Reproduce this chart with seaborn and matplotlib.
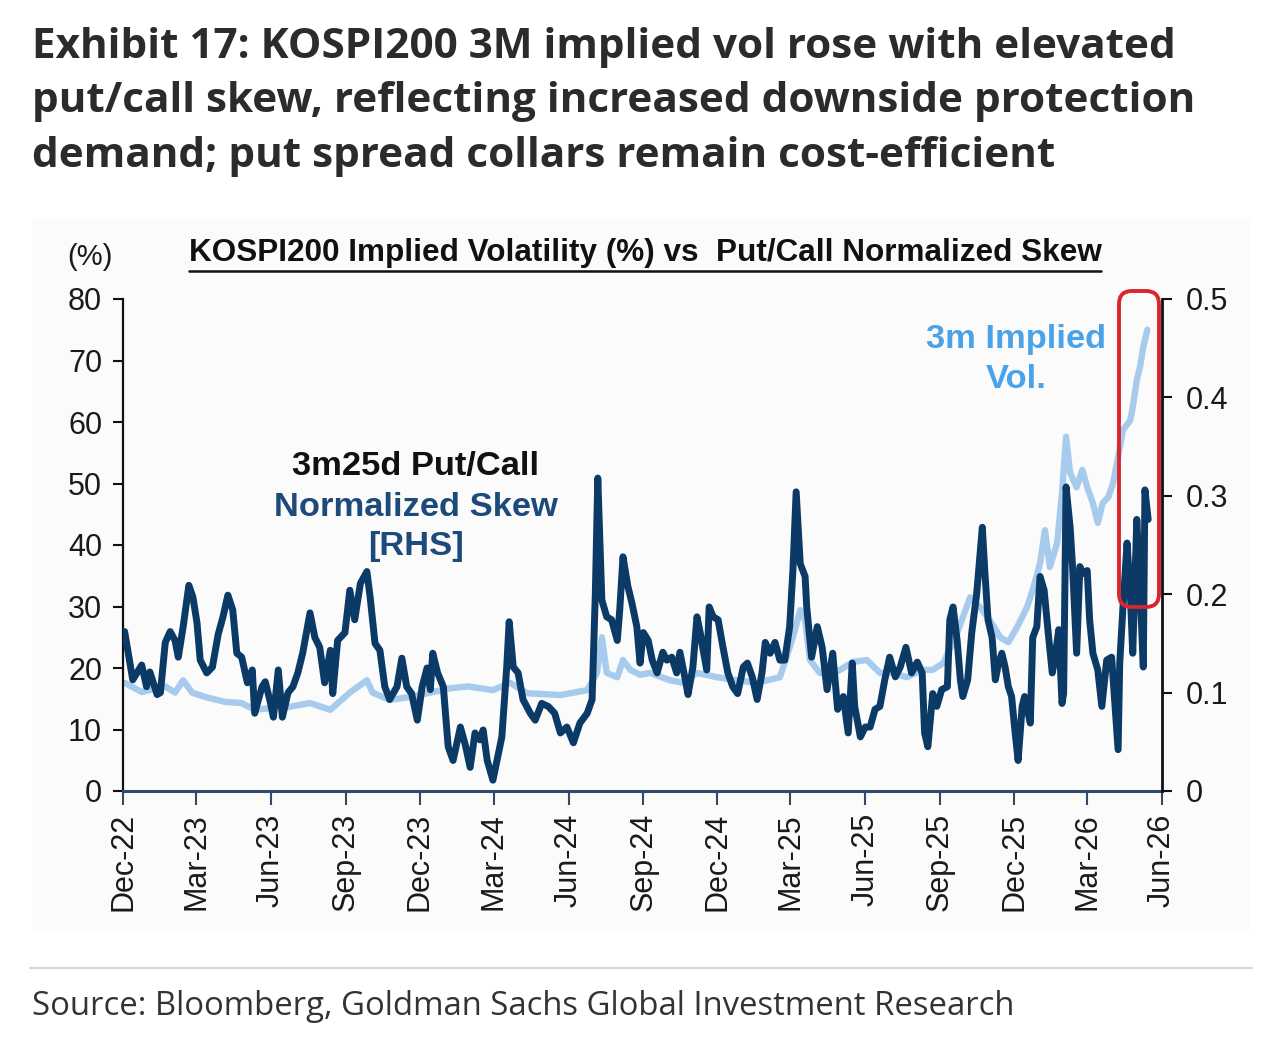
import matplotlib
matplotlib.use("Agg")
import matplotlib.pyplot as plt
import numpy as np
import pandas as pd
import seaborn as sns
from matplotlib.patches import Rectangle, FancyBboxPatch
from matplotlib.lines import Line2D

# ---------------- data ----------------
skew_dates = [
    "2022-12-03", "2022-12-13", "2022-12-24", "2022-12-30", "2023-01-03", "2023-01-12", "2023-01-16",
    "2023-01-22", "2023-01-28", "2023-02-03", "2023-02-07", "2023-02-13", "2023-02-20", "2023-02-25",
    "2023-03-02", "2023-03-06", "2023-03-14", "2023-03-21", "2023-03-28", "2023-04-03", "2023-04-09",
    "2023-04-15", "2023-04-20", "2023-04-26", "2023-05-03", "2023-05-09", "2023-05-12", "2023-05-21",
    "2023-05-25", "2023-05-31", "2023-06-04", "2023-06-10", "2023-06-15", "2023-06-22", "2023-06-28",
    "2023-07-04", "2023-07-10", "2023-07-19", "2023-07-25", "2023-07-31", "2023-08-06", "2023-08-13",
    "2023-08-16", "2023-08-22", "2023-08-31", "2023-09-06", "2023-09-12", "2023-09-19", "2023-09-27",
    "2023-10-01", "2023-10-07", "2023-10-13", "2023-10-19", "2023-10-25", "2023-11-03", "2023-11-09",
    "2023-11-15", "2023-11-21", "2023-11-28", "2023-12-04", "2023-12-10", "2023-12-14", "2023-12-17",
    "2023-12-23", "2023-12-30", "2024-01-05", "2024-01-11", "2024-01-20", "2024-01-26", "2024-02-01",
    "2024-02-07", "2024-02-13", "2024-02-17", "2024-02-22", "2024-02-29", "2024-03-05", "2024-03-11",
    "2024-03-17", "2024-03-20", "2024-03-25", "2024-03-31", "2024-04-06", "2024-04-15", "2024-04-21",
    "2024-04-29", "2024-05-07", "2024-05-15", "2024-05-22", "2024-05-30", "2024-06-07", "2024-06-15",
    "2024-06-24", "2024-06-30", "2024-07-04", "2024-07-07", "2024-07-12", "2024-07-18", "2024-07-24",
    "2024-07-31", "2024-08-03", "2024-08-07", "2024-08-13", "2024-08-18", "2024-08-24", "2024-08-28",
    "2024-09-01", "2024-09-07", "2024-09-12", "2024-09-18", "2024-09-25", "2024-09-30", "2024-10-06",
    "2024-10-12", "2024-10-16", "2024-10-22", "2024-10-26", "2024-11-01", "2024-11-06", "2024-11-10",
    "2024-11-13", "2024-11-18", "2024-11-21", "2024-11-26", "2024-12-02", "2024-12-08", "2024-12-14",
    "2024-12-20", "2024-12-26", "2025-01-02", "2025-01-07", "2025-01-13", "2025-01-19", "2025-01-25",
    "2025-01-29", "2025-02-04", "2025-02-10", "2025-02-16", "2025-02-22", "2025-02-28", "2025-03-04",
    "2025-03-08", "2025-03-13", "2025-03-19", "2025-03-21", "2025-03-27", "2025-04-03", "2025-04-09",
    "2025-04-15", "2025-04-22", "2025-04-28", "2025-05-05", "2025-05-11", "2025-05-16", "2025-05-19",
    "2025-05-26", "2025-06-01", "2025-06-07", "2025-06-13", "2025-06-19", "2025-06-25", "2025-07-01",
    "2025-07-08", "2025-07-14", "2025-07-21", "2025-07-28", "2025-08-04", "2025-08-10", "2025-08-13",
    "2025-08-17", "2025-08-23", "2025-08-28", "2025-09-03", "2025-09-10", "2025-09-13", "2025-09-17",
    "2025-09-22", "2025-09-26", "2025-09-29", "2025-10-05", "2025-10-10", "2025-10-16", "2025-10-23",
    "2025-10-26", "2025-10-30", "2025-11-04", "2025-11-08", "2025-11-11", "2025-11-16", "2025-11-20",
    "2025-11-24", "2025-11-28", "2025-12-02", "2025-12-06", "2025-12-11", "2025-12-14", "2025-12-21",
    "2025-12-24", "2025-12-29", "2026-01-02", "2026-01-07", "2026-01-12", "2026-01-17", "2026-01-20",
    "2026-01-25", "2026-01-29", "2026-01-31", "2026-02-03", "2026-02-08", "2026-02-11", "2026-02-16",
    "2026-02-20", "2026-02-24", "2026-03-01", "2026-03-04", "2026-03-08", "2026-03-14", "2026-03-19",
    "2026-03-25", "2026-03-31", "2026-04-04", "2026-04-08", "2026-04-10", "2026-04-14", "2026-04-19",
    "2026-04-23", "2026-04-26", "2026-05-01", "2026-05-05", "2026-05-09", "2026-05-11", "2026-05-15",
]
skew_values = [
    0.162, 0.113, 0.128, 0.106, 0.121, 0.098, 0.100,
    0.151, 0.162, 0.153, 0.136, 0.167, 0.209, 0.197,
    0.171, 0.133, 0.120, 0.126, 0.159, 0.177, 0.199,
    0.184, 0.140, 0.136, 0.110, 0.123, 0.079, 0.106,
    0.111, 0.091, 0.075, 0.123, 0.075, 0.100, 0.106,
    0.120, 0.140, 0.181, 0.156, 0.146, 0.110, 0.143,
    0.099, 0.153, 0.161, 0.204, 0.174, 0.211, 0.223,
    0.197, 0.150, 0.143, 0.106, 0.093, 0.106, 0.135,
    0.106, 0.099, 0.072, 0.106, 0.125, 0.103, 0.140,
    0.120, 0.106, 0.045, 0.031, 0.065, 0.047, 0.024,
    0.059, 0.052, 0.062, 0.031, 0.011, 0.031, 0.055,
    0.126, 0.172, 0.126, 0.120, 0.093, 0.079, 0.072,
    0.089, 0.086, 0.079, 0.059, 0.065, 0.049, 0.069,
    0.079, 0.093, 0.201, 0.318, 0.194, 0.177, 0.174,
    0.153, 0.184, 0.238, 0.208, 0.191, 0.167, 0.130,
    0.161, 0.153, 0.133, 0.120, 0.141, 0.133, 0.136,
    0.120, 0.141, 0.116, 0.098, 0.126, 0.177, 0.161,
    0.146, 0.123, 0.187, 0.177, 0.174, 0.146, 0.120,
    0.106, 0.099, 0.126, 0.130, 0.116, 0.093, 0.120,
    0.151, 0.140, 0.151, 0.133, 0.133, 0.167, 0.224,
    0.304, 0.231, 0.218, 0.187, 0.136, 0.167, 0.146,
    0.103, 0.140, 0.083, 0.096, 0.059, 0.130, 0.086,
    0.055, 0.065, 0.065, 0.083, 0.086, 0.113, 0.136,
    0.116, 0.126, 0.146, 0.120, 0.131, 0.120, 0.059,
    0.045, 0.099, 0.086, 0.103, 0.106, 0.174, 0.187,
    0.153, 0.113, 0.096, 0.113, 0.161, 0.200, 0.268,
    0.224, 0.174, 0.156, 0.113, 0.126, 0.140, 0.126,
    0.106, 0.096, 0.062, 0.031, 0.086, 0.096, 0.069,
    0.156, 0.167, 0.218, 0.204, 0.161, 0.120, 0.133,
    0.164, 0.089, 0.099, 0.309, 0.268, 0.228, 0.140,
    0.228, 0.221, 0.224, 0.174, 0.140, 0.123, 0.086,
    0.133, 0.136, 0.089, 0.042, 0.130, 0.187, 0.252,
    0.201, 0.140, 0.276, 0.204, 0.126, 0.306, 0.276,
]

vol_dates = [
    "2022-12-03", "2022-12-24", "2023-01-22", "2023-02-03", "2023-02-13", "2023-02-24", "2023-03-12",
    "2023-04-05", "2023-04-26", "2023-05-12", "2023-06-02", "2023-06-24", "2023-07-19", "2023-08-13",
    "2023-09-06", "2023-09-27", "2023-10-04", "2023-10-25", "2023-11-19", "2023-12-14", "2024-01-07",
    "2024-01-29", "2024-02-29", "2024-03-21", "2024-04-11", "2024-05-22", "2024-06-24", "2024-07-06",
    "2024-07-12", "2024-07-18", "2024-07-31", "2024-08-07", "2024-08-16", "2024-08-28", "2024-09-09",
    "2024-10-04", "2024-10-20", "2024-11-06", "2024-12-01", "2024-12-25", "2025-01-19", "2025-02-16",
    "2025-03-04", "2025-03-13", "2025-03-19", "2025-03-25", "2025-04-06", "2025-04-19", "2025-05-01",
    "2025-05-17", "2025-06-03", "2025-06-19", "2025-07-05", "2025-07-22", "2025-08-11", "2025-08-23",
    "2025-09-05", "2025-09-22", "2025-10-08", "2025-10-20", "2025-11-01", "2025-11-14", "2025-11-24",
    "2025-12-05", "2025-12-17", "2025-12-24", "2026-01-02", "2026-01-08", "2026-01-14", "2026-01-23",
    "2026-01-29", "2026-02-03", "2026-02-08", "2026-02-16", "2026-02-23", "2026-03-01", "2026-03-08",
    "2026-03-14", "2026-03-20", "2026-03-27", "2026-04-02", "2026-04-08", "2026-04-14", "2026-04-23",
    "2026-04-26", "2026-05-01", "2026-05-05", "2026-05-09", "2026-05-14",
]
vol_values = [
    17.6, 16.1, 17.0, 16.0, 18.0, 16.0, 15.3,
    14.5, 14.3, 13.2, 13.5, 13.7, 14.3, 13.2,
    16.0, 18.0, 16.0, 14.8, 15.3, 16.0, 16.7,
    17.0, 16.4, 17.6, 15.9, 15.6, 16.4, 19.2,
    25.0, 19.2, 18.5, 21.3, 19.7, 18.9, 19.2,
    18.0, 17.6, 19.2, 18.5, 18.0, 17.6, 18.5,
    25.0, 29.4, 27.8, 21.3, 19.2, 18.9, 19.7,
    21.0, 21.3, 19.2, 19.2, 18.5, 19.7, 19.7,
    20.8, 25.7, 31.5, 29.9, 27.8, 25.0, 24.2,
    26.7, 29.9, 32.7, 37.0, 42.4, 36.4, 40.3,
    48.5, 57.6, 51.7, 49.4, 52.2, 49.4, 46.8,
    43.6, 46.8, 47.8, 50.1, 54.3, 58.7, 60.3,
    62.4, 66.8, 69.0, 72.2, 75.0,
]

left_ticks = [0, 10, 20, 30, 40, 50, 60, 70, 80]
right_ticks = [0, 0.1, 0.2, 0.3, 0.4, 0.5]
right_labels = ["0", "0.1", "0.2", "0.3", "0.4", "0.5"]
x_tick_dates = pd.date_range("2022-12-01", "2026-06-01", freq="QS-DEC")
x_tick_labels = [d.strftime("%b-%y") for d in x_tick_dates]

title_lines = [
    "Exhibit 17: KOSPI200 3M implied vol rose with elevated",
    "put/call skew, reflecting increased downside protection",
    "demand; put spread collars remain cost-efficient",
]
chart_title = "KOSPI200 Implied Volatility (%) vs  Put/Call Normalized Skew"
source_text = "Source: Bloomberg, Goldman Sachs Global Investment Research"

# ---------------- styling ----------------
sns.set_theme(style="white")
plt.rcParams["font.family"] = ["Liberation Sans", "DejaVu Sans"]

W, H = 1280, 1046
def fx(px):
    return px / W
def fy(py):
    return 1 - py / H

NAVY = "#0b3a66"
LIGHT = "#a6cbec"

fig = plt.figure(figsize=(12.8, 10.46), dpi=100, facecolor="white")

# light panel behind chart
fig.patches.append(Rectangle((fx(32), fy(932)), fx(1250) - fx(32), fy(219) - fy(932),
                             transform=fig.transFigure, facecolor="#fbfbfb",
                             edgecolor="none", zorder=-5))

ax = fig.add_axes([fx(123), fy(791), fx(1162) - fx(123), fy(299) - fy(791)])
ax.set_facecolor("none")
ax2 = ax.twinx()
ax2.set_facecolor("none")

vol_df = pd.DataFrame({"date": pd.to_datetime(vol_dates), "vol": vol_values})
skew_df = pd.DataFrame({"date": pd.to_datetime(skew_dates), "skew": skew_values})

sns.lineplot(data=vol_df, x="date", y="vol", ax=ax, color=LIGHT, linewidth=4.6)
sns.lineplot(data=skew_df, x="date", y="skew", ax=ax2, color=NAVY, linewidth=5.0)

ax.set_xlim(pd.Timestamp("2022-12-01"), pd.Timestamp("2026-06-01"))
ax.set_ylim(0, 80)
ax2.set_ylim(0, 0.5)
ax.set_xlabel("")
ax.set_ylabel("")
ax2.set_xlabel("")
ax2.set_ylabel("")

ax.set_yticks(left_ticks)
ax.set_yticklabels([str(t) for t in left_ticks])
ax2.set_yticks(right_ticks)
ax2.set_yticklabels(right_labels)
ax.set_xticks(x_tick_dates)
ax.set_xticklabels(x_tick_labels, rotation=90)

for a in (ax, ax2):
    a.spines["top"].set_visible(False)
    a.grid(False)
ax.spines["right"].set_visible(False)
ax2.spines["left"].set_visible(False)
ax2.spines["bottom"].set_visible(False)
ax.spines["left"].set_color("#111111")
ax.spines["left"].set_linewidth(1.6)
ax2.spines["right"].set_color("#111111")
ax2.spines["right"].set_linewidth(2.0)
ax.spines["bottom"].set_color("#2f4b6b")
ax.spines["bottom"].set_linewidth(2.2)

ax.tick_params(axis="y", direction="out", length=7, width=1.5, color="#111111",
               labelsize=22, pad=8, labelcolor="#1a1a1a", left=True)
ax.tick_params(axis="x", direction="out", length=10, width=1.5, color="#2f4b6b",
               labelsize=22, pad=6, labelcolor="#1a1a1a", bottom=True)
ax2.tick_params(axis="y", direction="out", length=7, width=1.5, color="#111111",
                labelsize=22, pad=10, labelcolor="#1a1a1a", right=True)

# annotations
ax.text(0.282, 0.659, "3m25d Put/Call", transform=ax.transAxes, ha="center", va="center",
        fontsize=24.8, fontweight="bold", color="#111111")
ax.text(0.282, 0.577, "Normalized Skew", transform=ax.transAxes, ha="center", va="center",
        fontsize=24.8, fontweight="bold", color="#1c4a7a")
ax.text(0.282, 0.496, "[RHS]", transform=ax.transAxes, ha="center", va="center",
        fontsize=24.8, fontweight="bold", color="#1c4a7a")
ax.text(0.860, 0.917, "3m Implied", transform=ax.transAxes, ha="center", va="center",
        fontsize=24.8, fontweight="bold", color="#4aa3e8")
ax.text(0.860, 0.837, "Vol.", transform=ax.transAxes, ha="center", va="center",
        fontsize=24.8, fontweight="bold", color="#4aa3e8")

# red highlight box (drawn in inches so that the corners are round)
box = FancyBboxPatch((1119 / 100, (H - 607) / 100), 40 / 100, 316 / 100,
                     boxstyle="round,pad=0,rounding_size=0.13",
                     transform=fig.dpi_scale_trans, facecolor="none", edgecolor="#d8262c",
                     linewidth=2.8, clip_on=False, zorder=10)
fig.add_artist(box)

# chart title with underline and unit label
ct = fig.text(fx(645), fy(261), chart_title, ha="center", va="baseline",
              fontsize=22.7, fontweight="bold", color="#111111")
fig.text(fx(90), fy(257), "(%)", ha="center", va="center", fontsize=21, color="#1a1a1a")

# exhibit title
for i, line in enumerate(title_lines):
    fig.text(fx(32), fy(58 + 54.5 * i), line, ha="left", va="baseline",
             fontsize=30.4, fontweight="bold", color="#2b2b2b", family=["Open Sans", "DejaVu Sans"])

# rule and source
fig.add_artist(Line2D([fx(30), fx(1252)], [fy(968), fy(968)], transform=fig.transFigure,
                      color="#d6d6d6", linewidth=1.6))
fig.text(fx(32), fy(1015), source_text, ha="left", va="baseline", fontsize=23.7,
         color="#333333", family=["Open Sans", "DejaVu Sans"])

fig.canvas.draw()
bb = ct.get_window_extent(renderer=fig.canvas.get_renderer())
fig.add_artist(Line2D([bb.x0 / W, bb.x1 / W], [(bb.y0 - 3) / H, (bb.y0 - 3) / H],
                      transform=fig.transFigure, color="#111111", linewidth=1.8))

fig.savefig("out.png", dpi=100, facecolor="white")
